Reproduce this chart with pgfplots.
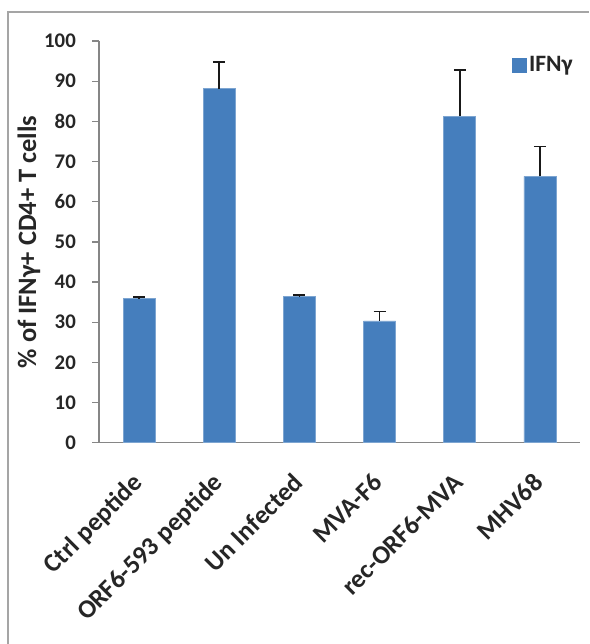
\documentclass[border=0pt]{standalone}
\usepackage{fontspec}
\setmainfont{Carlito}
\usepackage{pgfplots}
\pgfplotsset{compat=1.18}
\definecolor{barblue}{RGB}{69,126,189}
\definecolor{axgray}{RGB}{134,134,134}
\definecolor{framegray}{RGB}{165,165,165}
\begin{document}
\begin{tikzpicture}
\useasboundingbox (0pt,0pt) rectangle (589pt,-644pt);
\draw[framegray, line width=1.5pt] (8pt,-644pt) -- (8pt,-12pt) -- (589pt,-12pt);
\begin{axis}[
  at={(99pt,-442.7pt)}, anchor=south west,
  scale only axis, width=481pt, height=401.7pt,
  xmin=-0.5, xmax=5.5, ymin=0, ymax=100,
  axis x line*=bottom, axis y line*=left,
  axis line style={axgray, line width=1.3pt, -},
  /pgf/number format/assume math mode=true,
  ytick={0,10,...,100},
  xtick={0,1,2,3,4,5},
  xticklabels={Ctrl peptide, ORF6-593 peptide, Un Infected, MVA-F6, rec-ORF6-MVA, MHV68},
  x tick style={draw=none},
  y tick style={axgray, line width=1.3pt},
  tick align=outside, major tick length=7pt,
  extra x ticks={-0.5,0.5,1.5,2.5,3.5,4.5,5.5},
  extra x tick labels={},
  extra x tick style={tick style={axgray, line width=1.3pt}, major tick length=8pt},
  yticklabel style={font=\bfseries\fontsize{20.8}{22}\selectfont, text=black!85, inner sep=2pt, xshift=-14pt},
  xticklabel style={font=\bfseries\fontsize{26}{28}\selectfont, text=black!85, xshift=-8pt, yshift=-19pt, rotate=45, anchor=north east, inner sep=2pt},
  ylabel={\% of IFNγ+ CD4+ T cells},
  ylabel style={font=\bfseries\fontsize{26.5}{28}\selectfont, text=black!85, at={(axis description cs:-0.1455,0.5)}, anchor=center},
  legend style={draw=none, fill=none, at={(axis description cs:0.859,0.94)}, anchor=west, font=\bfseries\fontsize{23.5}{24}\selectfont, text=black!85, inner sep=0pt},
  legend cell align=left,
  clip=false,
]
\addplot[ybar, bar width=32pt, fill=barblue, draw=barblue!70!white, line width=0.8pt,
  legend image code/.code={\fill[barblue] (0pt,-7pt) rectangle (14pt,7pt);},
  error bars/.cd, y dir=plus, y explicit,
  error bar style={black!90, line width=1.6pt},
  error mark options={rotate=90, mark size=6pt, line width=1.6pt, black!90}]
coordinates {
(0,35.8) +- (0,0.5)
(1,88.1) +- (0,6.6)
(2,36.3) +- (0,0.5)
(3,30.3) +- (0,2.4)
(4,81.3) +- (0,11.5)
(5,66.3) +- (0,7.4)
};
\addlegendentry{IFNγ}
\end{axis}
\end{tikzpicture}
\end{document}
